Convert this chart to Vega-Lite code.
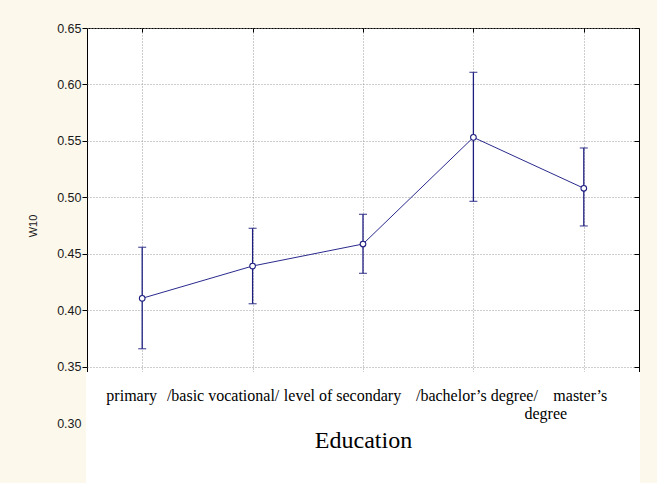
{
  "$schema": "https://vega.github.io/schema/vega-lite/v6.json",
  "width": 552,
  "height": 395,
  "autosize": "none",
  "padding": {"left": 87, "top": 28, "right": 18, "bottom": 60},
  "background": "#FCF8EC",
  "config": {
    "view": {"stroke": "#000000", "strokeWidth": 1, "fill": "#ffffff"},
    "axis": {"labelFont": "Liberation Sans", "titleFont": "Liberation Sans"}
  },
  "data": {
    "values": [
      {"level": "primary", "mean": 0.4105, "lo": 0.3658, "hi": 0.4557},
      {"level": "/basic vocational/", "mean": 0.4391, "lo": 0.4057, "hi": 0.4725},
      {"level": "level of secondary", "mean": 0.4586, "lo": 0.4326, "hi": 0.4849},
      {"level": "/bachelor’s degree/", "mean": 0.5531, "lo": 0.4964, "hi": 0.6107},
      {"level": "master’s degree", "mean": 0.508, "lo": 0.4746, "hi": 0.5437}
    ]
  },
  "layer": [
    {
      "mark": {"type": "line", "color": "#2a2a8e", "strokeWidth": 1},
      "encoding": {
        "x": {
          "field": "level", "type": "nominal", "sort": null,
          "scale": {"type": "point", "padding": 0.5},
          "axis": {
            "orient": "top", "labels": false, "title": null, "domain": false,
            "ticks": true, "tickSize": -4, "tickColor": "#000000",
            "grid": true, "gridDash": [1, 2], "gridColor": "#9a9a9a", "gridWidth": 1
          }
        },
        "y": {
          "field": "mean", "type": "quantitative",
          "scale": {"domain": [0.3, 0.65], "zero": false, "nice": false},
          "axis": {
            "orient": "left",
            "values": [0.3, 0.35, 0.4, 0.45, 0.5, 0.55, 0.6, 0.65],
            "format": ".2f", "title": "W10", "titleFontSize": 11, "titleFontWeight": "normal",
            "titleColor": "#222222", "titlePadding": 18,
            "labelFontSize": 12.5, "labelColor": "#1a1a1a", "labelPadding": 1,
            "tickSize": 5, "tickColor": "#000000", "domain": false,
            "tickOpacity": {"condition": {"test": "datum.value < 0.32", "value": 0}, "value": 1},
            "grid": true, "gridDash": [1, 2], "gridColor": "#9a9a9a", "gridWidth": 1
          }
        }
      }
    },
    {
      "data": {"values": [{"box": "label area"}]},
      "mark": {"type": "rect", "fill": "#ffffff", "stroke": "#ffffff", "strokeWidth": 2, "clip": false},
      "encoding": {
        "y": {"datum": 0.3443, "type": "quantitative", "scale": {"domain": [0.3, 0.65], "zero": false, "nice": false}, "axis": null},
        "y2": {"datum": 0.2}
      }
    },
    {
      "mark": {"type": "rule", "color": "#1e1e80", "strokeWidth": 1.3},
      "encoding": {
        "x": {"field": "level", "type": "nominal", "sort": null, "scale": {"type": "point", "padding": 0.5}, "axis": null},
        "y": {
          "field": "lo", "type": "quantitative",
          "scale": {"domain": [0.3, 0.65], "zero": false, "nice": false},
          "axis": {
            "orient": "right", "labels": false, "title": null, "domain": false, "grid": false,
            "values": [0.3, 0.35, 0.4, 0.45, 0.5, 0.55, 0.6, 0.65],
            "ticks": true, "tickSize": -5, "tickColor": "#000000"
          }
        },
        "y2": {"field": "hi"}
      }
    },
    {
      "mark": {"type": "tick", "color": "#1e1e80", "size": 8, "thickness": 1.3},
      "encoding": {
        "x": {"field": "level", "type": "nominal", "sort": null, "scale": {"type": "point", "padding": 0.5}, "axis": null},
        "y": {"field": "hi", "type": "quantitative", "scale": {"domain": [0.3, 0.65], "zero": false, "nice": false}, "axis": null}
      }
    },
    {
      "mark": {"type": "tick", "color": "#1e1e80", "size": 8, "thickness": 1.3},
      "encoding": {
        "x": {"field": "level", "type": "nominal", "sort": null, "scale": {"type": "point", "padding": 0.5}, "axis": null},
        "y": {"field": "lo", "type": "quantitative", "scale": {"domain": [0.3, 0.65], "zero": false, "nice": false}, "axis": null}
      }
    },
    {
      "transform": [{"filter": "datum.level == 'master’s degree'"}],
      "mark": {"type": "text", "text": "degree", "font": "Liberation Serif", "fontSize": 16, "color": "#000000", "baseline": "alphabetic", "align": "center", "dx": -38, "clip": false},
      "encoding": {
        "x": {"field": "level", "type": "nominal", "sort": null, "scale": {"type": "point", "padding": 0.5}, "axis": null},
        "y": {"datum": 0.3033, "type": "quantitative", "scale": {"domain": [0.3, 0.65], "zero": false, "nice": false}, "axis": null}
      }
    },
    {
      "mark": {"type": "point", "filled": true, "fill": "#ffffff", "stroke": "#1e1e80", "strokeWidth": 1.1, "size": 32, "opacity": 1},
      "encoding": {
        "x": {
          "field": "level", "type": "nominal", "sort": null,
          "scale": {"type": "point", "padding": 0.5},
          "axis": {
            "orient": "bottom", "zindex": 1, "domain": false, "ticks": false, "grid": false,
            "labelAngle": 0, "labelFont": "Liberation Serif", "labelFontSize": 16, "labelColor": "#000000",
            "labelBaseline": "alphabetic", "labelPadding": -23,
            "labelOverlap": false, "labelLimit": 400,
            "labelOffset": {
              "condition": [
                {"test": "datum.value == 'primary'", "value": -11},
                {"test": "datum.value == '/basic vocational/'", "value": -30},
                {"test": "datum.value == 'level of secondary'", "value": -21},
                {"test": "datum.value == '/bachelor’s degree/'", "value": 3}
              ],
              "value": -4
            },
            "labelExpr": "datum.value == 'master’s degree' ? 'master’s' : datum.value",
            "title": "Education", "titleFont": "Liberation Serif", "titleFontSize": 24,
            "titleFontWeight": "normal", "titleColor": "#000000",
            "titleBaseline": "alphabetic", "titleY": 24
          }
        },
        "y": {"field": "mean", "type": "quantitative", "scale": {"domain": [0.3, 0.65], "zero": false, "nice": false}, "axis": null}
      }
    }
  ],
  "resolve": {"axis": {"x": "independent", "y": "independent"}}
}
